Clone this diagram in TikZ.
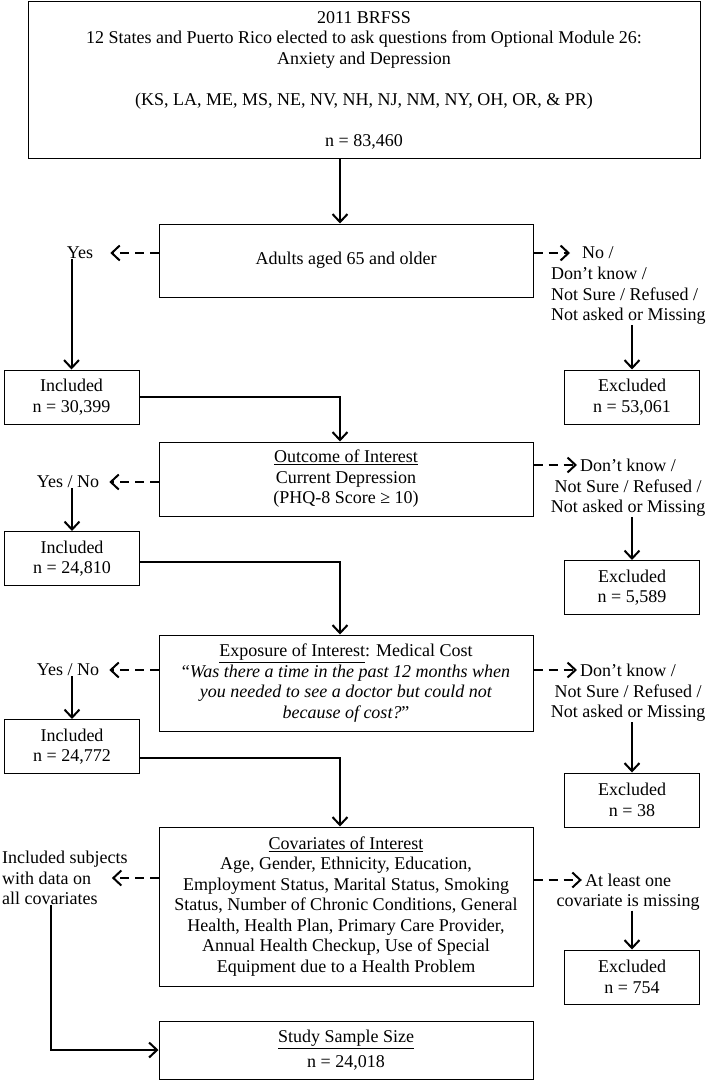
\documentclass[tikz,border=0pt]{standalone}
\usepackage{fontspec}
\setmainfont{Liberation Serif}
\usetikzlibrary{arrows.meta,positioning,calc}

\tikzset{
  mainbox/.style={draw, line width=1pt, align=center, minimum width=374pt, inner sep=3pt},
  sidebox/.style={draw, line width=1pt, align=center, minimum width=135pt, minimum height=54pt, inner sep=2pt},
  lbl/.style={align=center, inner sep=0pt},
  flow/.style={line width=2pt, -{Straight Barb[length=8pt,width=15pt,line width=2pt]}},
  flowdash/.style={flow, dash pattern=on 9pt off 6pt},
}

\begin{document}
\begin{tikzpicture}[x=1pt, y=-1pt, font=\fontsize{18}{20.5}\selectfont]
  \useasboundingbox (0,0) rectangle (709,1081);

  % main column
  \node[mainbox, minimum width=672pt, minimum height=156pt] (brfss) at (364,80)
    {2011 BRFSS\\12 States and Puerto Rico elected to ask questions from Optional Module 26:\\Anxiety and Depression\\[20.5pt](KS, LA, ME, MS, NE, NV, NH, NJ, NM, NY, OH, OR, \& PR)\\[20.5pt]n = 83,460};
  \node[mainbox, minimum height=73pt] (adults) at (346,260.5) {Adults aged 65 and older};
  \node[mainbox, minimum height=74pt] (outcome) at (346,479)
    {\underline{Outcome of Interest}\\Current Depression\\(PHQ-8 Score ≥ 10)};
  \node[mainbox, minimum height=96pt] (exposure) at (346,683)
    {\underline{Exposure of Interest}: Medical Cost\\“\textit{Was there a time in the past 12 months when}\\\textit{you needed to see a doctor but could not}\\\textit{because of cost?}”};
  \node[mainbox, minimum height=159pt] (covar) at (346,906.5)
    {\underline{Covariates of Interest}\\Age, Gender, Ethnicity, Education,\\Employment Status, Marital Status, Smoking\\Status, Number of Chronic Conditions, General\\Health, Health Plan, Primary Care Provider,\\Annual Health Checkup, Use of Special\\Equipment due to a Health Problem};
  \node[mainbox, minimum height=58pt] (sample) at (346,1050) {\underline{Study Sample Size}\\[4pt]n = 24,018};

  % left labels and included boxes
  \node[lbl] (yesA) at (80,253) {Yes};
  \node[sidebox] (incA) at (71.5,397) {Included\\n = 30,399};
  \node[lbl] (yesB) at (68,482) {Yes / No};
  \node[sidebox] (incB) at (72,558.5) {Included\\n = 24,810};
  \node[lbl] (yesC) at (68,670) {Yes / No};
  \node[sidebox] (incC) at (72,746.5) {Included\\n = 24,772};
  \node[lbl, align=left, anchor=west] (inclSub) at (2,878) {Included subjects\\with data on\\all covariates};

  % right labels and excluded boxes
  \node[lbl, anchor=west] (noA) at (582,253) {No /};
  \node[lbl, align=left, anchor=north west] (restA) at ([shift={(-31pt,-8pt)}]noA.south west)
    {Don't know /\\Not Sure / Refused /\\Not asked or Missing};
  \node[sidebox] (excA) at (632,397) {Excluded\\n = 53,061};
  \node[lbl] (dkB) at (628,465) {Don't know /};
  \node[lbl, below=8pt of dkB] (restB) {Not Sure / Refused /\\Not asked or Missing};
  \node[sidebox] (excB) at (632,587.5) {Excluded\\n = 5,589};
  \node[lbl] (dkC) at (628,670) {Don't know /};
  \node[lbl, below=8pt of dkC] (restC) {Not Sure / Refused /\\Not asked or Missing};
  \node[sidebox] (excC) at (632,800) {Excluded\\n = 38};
  \node[lbl] (alo) at (628,880) {At least one};
  \node[lbl, below=8pt of alo] (cim) {covariate is missing};
  \node[sidebox] (excD) at (632,977) {Excluded\\n = 754};

  % connectors
  \draw[flow] ([xshift=-6pt]adults.north |- brfss.south) -- ([xshift=-6pt]adults.north);
  \draw[flowdash] (adults.west |- yesA) -- ([xshift=17pt]yesA.east);
  \draw[flowdash] (adults.east |- noA) -- ([xshift=-12pt]noA.west);
  \draw[flow] (incA.north |- yesA.south) -- (incA.north);
  \draw[flow] (excA.north |- restA.south) -- (excA.north);
  \draw[flow] (incA.east) -| ([xshift=-6pt]outcome.north);

  \draw[flowdash] (outcome.west |- yesB) -- ([xshift=10pt]yesB.east);
  \draw[flowdash] (outcome.east |- dkB) -- ([xshift=-3pt]dkB.west);
  \draw[flow] (incB.north |- yesB.south) -- (incB.north);
  \draw[flow] (excB.north |- restB.south) -- (excB.north);
  \draw[flow] ([yshift=-3pt]incB.east) -| ([xshift=-6pt]exposure.north);

  \draw[flowdash] (exposure.west |- yesC) -- ([xshift=10pt]yesC.east);
  \draw[flowdash] (exposure.east |- dkC) -- ([xshift=-3pt]dkC.west);
  \draw[flow] (incC.north |- yesC.south) -- (incC.north);
  \draw[flow] (excC.north |- restC.south) -- (excC.north);
  \draw[flow] ([yshift=-11pt]incC.east) -| ([xshift=-6pt]covar.north);

  \draw[flowdash] (covar.west |- inclSub) -- ([xshift=-16pt]inclSub.east);
  \draw[flowdash] (covar.east |- alo) -- ([xshift=-3pt]alo.west);
  \draw[flow] (excD.north |- cim.south) -- (excD.north);
  \draw[flow] ([xshift=-14pt]inclSub.south) |- (sample.west);
\end{tikzpicture}
\end{document}
